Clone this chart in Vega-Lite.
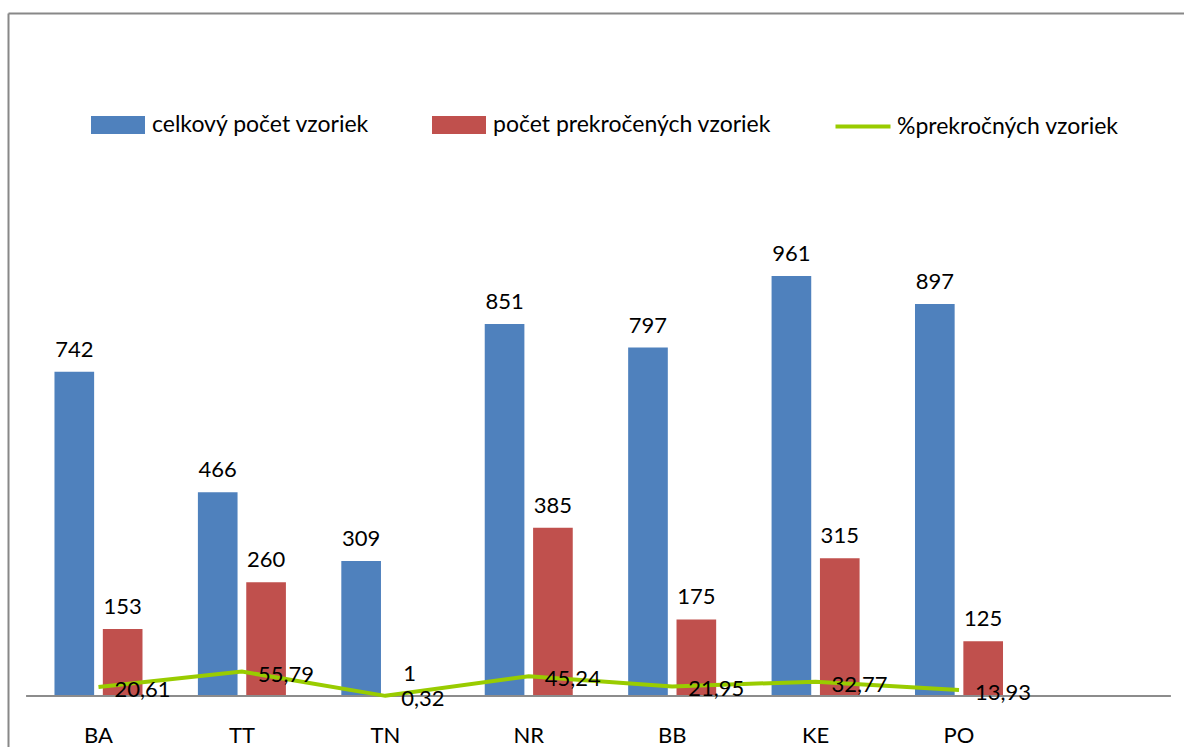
{
  "$schema": "https://vega.github.io/schema/vega-lite/v6.json",
  "usermeta": {"embedOptions": {"actions": false}},
  "width": 1176,
  "height": 734,
  "autosize": {"type": "none"},
  "padding": {"left": 8, "top": 13, "right": 0, "bottom": 0},
  "config": {
    "view": {"stroke": null},
    "locale": {"number": {"decimal": ",", "thousands": " ", "grouping": [3], "currency": ["", " €"]}},
    "text": {"font": "Lato", "fontSize": 22, "color": "#000000"},
    "axis": {"labelFont": "Lato"},
    "legend": {"labelFont": "Lato"}
  },
  "resolve": {"axis": {"x": "independent"}},
  "data": {
    "values": [
      {"kraj": "BA", "series": "celkový počet vzoriek", "value": 742},
      {"kraj": "TT", "series": "celkový počet vzoriek", "value": 466},
      {"kraj": "TN", "series": "celkový počet vzoriek", "value": 309},
      {"kraj": "NR", "series": "celkový počet vzoriek", "value": 851},
      {"kraj": "BB", "series": "celkový počet vzoriek", "value": 797},
      {"kraj": "KE", "series": "celkový počet vzoriek", "value": 961},
      {"kraj": "PO", "series": "celkový počet vzoriek", "value": 897},
      {"kraj": "BA", "series": "počet prekročených vzoriek", "value": 153},
      {"kraj": "TT", "series": "počet prekročených vzoriek", "value": 260},
      {"kraj": "TN", "series": "počet prekročených vzoriek", "value": 1},
      {"kraj": "NR", "series": "počet prekročených vzoriek", "value": 385},
      {"kraj": "BB", "series": "počet prekročených vzoriek", "value": 175},
      {"kraj": "KE", "series": "počet prekročených vzoriek", "value": 315},
      {"kraj": "PO", "series": "počet prekročených vzoriek", "value": 125},
      {"kraj": "BA", "series": "%prekročných vzoriek", "value": 20.61},
      {"kraj": "TT", "series": "%prekročných vzoriek", "value": 55.79},
      {"kraj": "TN", "series": "%prekročných vzoriek", "value": 0.32},
      {"kraj": "NR", "series": "%prekročných vzoriek", "value": 45.24},
      {"kraj": "BB", "series": "%prekročných vzoriek", "value": 21.95},
      {"kraj": "KE", "series": "%prekročných vzoriek", "value": 32.77},
      {"kraj": "PO", "series": "%prekročných vzoriek", "value": 13.93}
    ]
  },
  "layer": [
    {
      "transform": [{"filter": "datum.series !== '%prekročných vzoriek'"}],
      "mark": {"type": "bar"},
      "encoding": {
        "x": {
          "field": "kraj", "type": "nominal",
          "scale": {"domain": ["BA", "TT", "TN", "NR", "BB", "KE", "PO", " "], "paddingInner": 0.3863, "paddingOuter": 0.293, "align": 0.553},
          "axis": {"orient": "bottom", "offset": -51, "domain": false, "ticks": false, "tickSize": 0, "labelPadding": 46, "labelBaseline": "alphabetic", "labelFontSize": 22, "labelColor": "#000000", "labelFont": "Lato", "title": null, "labelAngle": 0, "grid": false}
        },
        "xOffset": {"field": "series", "type": "nominal", "scale": {"domain": ["celkový počet vzoriek", "počet prekročených vzoriek"], "paddingInner": 0.18, "paddingOuter": 0}},
        "y": {
          "field": "value", "type": "quantitative",
          "scale": {"domain": [-116.7, 1562.5], "nice": false, "zero": false},
          "axis": {"orient": "left", "offset": 0, "domain": true, "domainColor": "#888888", "domainWidth": 2, "labels": false, "ticks": false, "grid": false, "title": null}
        },
        "y2": {"datum": 0},
        "color": {
          "field": "series", "type": "nominal",
          "scale": {"domain": ["celkový počet vzoriek", "počet prekročených vzoriek", "%prekročných vzoriek"], "range": ["#4F81BD", "#C0504D", "#99CC00"]},
          "legend": {
            "title": null, "orient": "none", "legendX": 83, "legendY": 85, "direction": "horizontal",
            "symbolSize": 2500, "labelFontSize": 23, "labelColor": "#000000", "labelOffset": 7, "columnPadding": 56, "labelLimit": 500, "padding": 0,
            "encode": {
              "symbols": {
                "update": {
                  "shape": {"signal": "datum.value === '%prekročných vzoriek' ? 'M-1.1,0H1.1' : 'M-1,-0.28H1V0.28H-1Z'"},
                  "fill": {"signal": "datum.value === '%prekročných vzoriek' ? 'transparent' : (datum.value === 'celkový počet vzoriek' ? '#4F81BD' : '#C0504D')"},
                  "stroke": {"signal": "datum.value === '%prekročných vzoriek' ? '#99CC00' : 'transparent'"},
                  "strokeWidth": {"value": 4},
                  "size": {"value": 2500},
                  "opacity": {"value": 1}
                }
              }
            }
          }
        }
      }
    },
    {
      "mark": {"type": "rule", "color": "#8C8C8C", "strokeWidth": 1.2},
      "encoding": {
        "x": {
          "datum": "BA", "type": "nominal", "bandPosition": -0.315,
          "axis": {"orient": "top", "offset": 0, "domain": true, "domainColor": "#888888", "domainWidth": 2, "labels": false, "ticks": false, "grid": false, "title": null}
        },
        "x2": {"datum": " ", "bandPosition": 1.27},
        "y": {"datum": 0, "type": "quantitative"}
      }
    },
    {
      "transform": [{"filter": "datum.series === '%prekročných vzoriek'"}],
      "mark": {"type": "line", "strokeWidth": 4},
      "encoding": {
        "x": {"field": "kraj", "type": "nominal", "axis": null},
        "y": {"field": "value", "type": "quantitative"},
        "color": {"field": "series", "type": "nominal"}
      }
    },
    {
      "transform": [{"filter": "datum.series !== '%prekročných vzoriek'"}],
      "mark": {"type": "text", "align": "center", "baseline": "alphabetic", "dy": -15},
      "encoding": {
        "x": {"field": "kraj", "type": "nominal", "axis": null},
        "xOffset": {"field": "series", "type": "nominal"},
        "y": {"field": "value", "type": "quantitative"},
        "text": {"field": "value", "type": "quantitative", "format": "d"}
      }
    },
    {
      "transform": [{"filter": "datum.series === '%prekročných vzoriek'"}],
      "mark": {"type": "text", "align": "left", "baseline": "alphabetic", "dx": 16, "dy": 10},
      "encoding": {
        "x": {"field": "kraj", "type": "nominal", "axis": null},
        "y": {"field": "value", "type": "quantitative"},
        "text": {"field": "value", "type": "quantitative", "format": ".2f"}
      }
    }
  ]
}
